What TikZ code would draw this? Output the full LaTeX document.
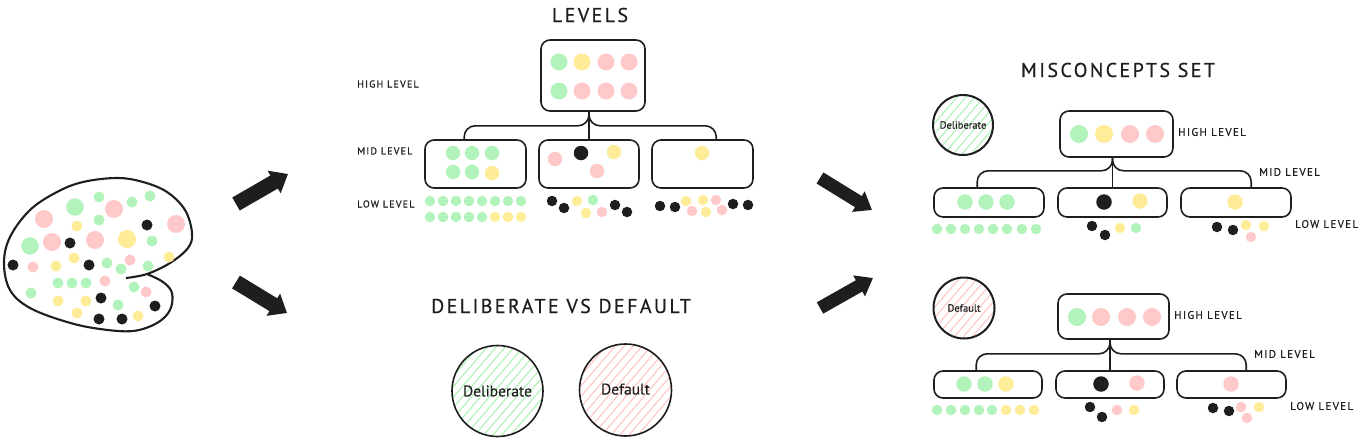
\documentclass[tikz,border=0pt]{standalone}
\usepackage{fontspec}
\setmainfont[FakeBold=0.3]{PT Sans}
\newfontfamily\capsfont[LetterSpace=12, FakeBold=0.5]{PT Sans}
\usetikzlibrary{arrows.meta}

\definecolor{mint}{HTML}{B2F2BB}
\definecolor{butter}{HTML}{FFEC99}
\definecolor{rose}{HTML}{FFC9C9}
\definecolor{ink}{HTML}{1E1E1E}

\tikzset{
	spot/.style={circle, fill=#1, inner sep=0pt},
	levelbox/.style={draw=ink, line width=1.6pt, rounded corners=9pt, inner sep=0pt},
	link/.style={draw=ink, line width=1.6pt, rounded corners=11pt},
	bigarrow/.style={draw=ink, line width=#1, -{Triangle[length=16pt, width=#1+10pt]}},
	title/.style={text=ink, inner sep=0pt, font=\capsfont\fontsize{20}{22}\selectfont},
	levellabel/.style={text=ink, inner sep=0pt, anchor=west, font=\capsfont\fontsize{#1}{12}\selectfont},
	hatch/.style={path picture={
		\foreach \d in {-120,-111,...,120}
			\draw[#1, line width=1.2pt]
				([xshift=\d pt-60pt, yshift=-70pt]path picture bounding box.center) --
				([xshift=\d pt+60pt, yshift=70pt]path picture bounding box.center);
	}},
	kind/.style={circle, draw=ink, text=ink, inner sep=0pt, minimum size=#1}
}

\begin{document}
\begin{tikzpicture}[x=1pt, y=-1pt]
	\useasboundingbox (0,0) rectangle (1360,439);

	\draw[draw=ink, line width=2.1pt, line join=round] plot[smooth, tension=0.6] coordinates {
		(126,278) (147,274) (170,263) (188,248) (192,233) (185,210) (167,192) (143,182) (117,178)
		(83,182) (57,192) (30,210) (10,237) (4,263) (10,290) (30,308) (67,322) (100,329) (133,331)
		(157,323) (170,310) (172,293) (163,282) (147,274)};

	\foreach \c/\d/\x/\y in {
		mint/17.5/75/207, mint/17.5/30/246, rose/18/44/219, rose/18/114/209, rose/18/52/242,
		rose/18/95/240, rose/18/176/224, butter/18/127/239,
		mint/11/99/197, mint/11/132/202, mint/11/150/196, mint/11/99/220, mint/11/152/241,
		mint/11/107/263, mint/11/121/269, mint/11/148/266, mint/11/58/283, mint/11/72/283,
		mint/11/86/283, mint/11/31/293, mint/11/134/287, mint/11/118/305,
		rose/11/33/267, rose/11/130/260, rose/11/105/281, rose/11/146/292,
		butter/11/77/226, butter/11/74/258, butter/11/56/266, butter/11/169/257, butter/11/58/301,
		butter/11/86/301, butter/11/77/313, butter/11/138/316,
		ink/11/147/225, ink/11/70/243, ink/11/13/265, ink/11/89/265, ink/11/101/298, ink/11/155/306,
		ink/11/99/319, ink/11/122/319}
		\node[spot=\c, minimum size=\d pt] (pool\x-\y) at (\x,\y) {};

	\coordinate (a1s) at (236,204);
	\coordinate (a1e) at (288,174);
	\coordinate (a2s) at (236,282);
	\coordinate (a2e) at (287,313);
	\coordinate (a3s) at (820,178);
	\coordinate (a3e) at (872,210);
	\coordinate (a4s) at (820,308);
	\coordinate (a4e) at (873,278);
	\draw[bigarrow=15pt] (a1s) -- (a1e);
	\draw[bigarrow=15pt] (a2s) -- (a2e);
	\draw[bigarrow=13pt] (a3s) -- (a3e);
	\draw[bigarrow=13pt] (a4s) -- (a4e);

	\node[title] (levels) at (590,15) {LEVELS};
	\node[levellabel=10] (high1) at (357,84) {HIGH LEVEL};
	\node[levellabel=10] (mid1) at (357,151) {MID LEVEL};
	\node[levellabel=10] (low1) at (357,204) {LOW LEVEL};

	\node[levelbox, minimum width=104pt, minimum height=71pt] (lh) at (593,75.5) {};
	\node[levelbox, minimum width=101pt, minimum height=48pt] (lm1) at (475.5,164) {};
	\node[levelbox, minimum width=100pt, minimum height=48pt] (lm2) at (589,164) {};
	\node[levelbox, minimum width=101pt, minimum height=48pt] (lm3) at (702.5,164) {};
	\draw[link] (lh.south -| lm2.north) -- ++(0,14) -| ([xshift=40pt]lm1.north west);
	\draw[link] (lh.south -| lm2.north) -- (lm2.north);
	\draw[link] (lh.south -| lm2.north) -- ++(0,14) -| ([xshift=65pt]lm3.north west);

	\foreach \c/\x/\y in {mint/559/62, butter/582/62, rose/606/62, rose/629/62,
		mint/559/91, rose/582/91, rose/606/91, rose/629/91}
		\node[spot=\c, minimum size=17pt] (lh\x-\y) at (\x,\y) {};
	\foreach \c/\x/\y in {mint/453/153, mint/472/153, mint/492/153, mint/453/172, mint/472/172,
		butter/492/173, rose/555/159, ink/581/153, butter/614/152, rose/597/171, butter/702/153}
		\node[spot=\c, minimum size=14.5pt] (lm\x-\y) at (\x,\y) {};
	\foreach \c/\x/\y in {mint/430/201, mint/443/201, mint/456/201, mint/469/201, mint/482/201,
		mint/495/201, mint/508/201, mint/521/201, mint/430/217, mint/443/217, mint/456/217,
		mint/469/217, mint/482/217, butter/495/217, butter/508/217, butter/521/217,
		ink/552/201, ink/564/208, butter/577/201, mint/593/200, butter/586/213, rose/602/212,
		ink/615/205, ink/627/212, ink/660/206, ink/675/207, butter/686/201, butter/703/200,
		rose/716/200, rose/692/211, butter/706/212, rose/722/210, ink/733/204, ink/748/205}
		\node[spot=\c, minimum size=10.5pt] (ll\x-\y) at (\x,\y) {};

	\node[title] (versus) at (561,306) {DELIBERATE VS DEFAULT};
	\node[kind=91pt, line width=1.6pt, hatch=mint, font=\fontsize{15.5}{17}\selectfont] (delib) at (497.5,391) {Deliberate};
	\node[kind=92pt, line width=1.6pt, hatch=rose, font=\fontsize{15.5}{17}\selectfont] (defau) at (625.5,390) {\raisebox{2pt}{Default}};

	\node[title] (miscon) at (1118,70) {MISCONCEPTS SET};
	\node[kind=60pt, line width=2pt, hatch=mint, font=\fontsize{10.5}{12}\selectfont] (delib2) at (963,125) {Deliberate};
	\node[levellabel=11] (high2) at (1178,132) {HIGH LEVEL};
	\node[levellabel=11] (mid2) at (1259,172) {MID LEVEL};
	\node[levellabel=11] (low2) at (1295,224) {LOW LEVEL};

	\node[levelbox, minimum width=113pt, minimum height=46pt] (uh) at (1116.5,134) {};
	\node[levelbox, minimum width=110pt, minimum height=29pt] (um1) at (989,202.5) {};
	\node[levelbox, minimum width=109pt, minimum height=29pt] (um2) at (1112.5,202.5) {};
	\node[levelbox, minimum width=110pt, minimum height=29pt] (um3) at (1236,202.5) {};
	\draw[link] (uh.south -| um2.north) -- ++(0,13) -| ([xshift=44pt]um1.north west);
	\draw[link] (uh.south -| um2.north) -- (um2.north);
	\draw[link] (uh.south -| um2.north) -- ++(0,13) -| ([xshift=71pt]um3.north west);

	\foreach \c/\x in {mint/1079, butter/1104, rose/1130, rose/1155}
		\node[spot=\c, minimum size=18pt] (uh\x) at (\x,134) {};
	\foreach \c/\x/\y in {mint/965/202, mint/986/202, mint/1007/202, ink/1104/202, butter/1140/201, butter/1235/202}
		\node[spot=\c, minimum size=15.5pt] (um\x) at (\x,\y) {};
	\foreach \c/\x/\y in {mint/937/229, mint/951/229, mint/965/229, mint/979/229, mint/993/229,
		mint/1007/229, mint/1022/229, mint/1036/229, ink/1092/226, ink/1105/235, butter/1120/228,
		mint/1136/228, ink/1217/227, ink/1233/230, butter/1246/225, butter/1264/226, rose/1251/237}
		\node[spot=\c, minimum size=10.5pt] (ul\x) at (\x,\y) {};

	\node[kind=61pt, line width=2pt, hatch=rose, font=\fontsize{10.5}{12}\selectfont] (defau2) at (964,308) {Default};
	\node[levellabel=11] (high3) at (1174,315) {HIGH LEVEL};
	\node[levellabel=11] (mid3) at (1254,354) {MID LEVEL};
	\node[levellabel=11] (low3) at (1290,406) {LOW LEVEL};

	\node[levelbox, minimum width=111pt, minimum height=45pt] (bh) at (1113.5,316.5) {};
	\node[levelbox, minimum width=108pt, minimum height=27pt] (bm1) at (988,384.5) {};
	\node[levelbox, minimum width=108pt, minimum height=27pt] (bm2) at (1110,384.5) {};
	\node[levelbox, minimum width=109pt, minimum height=27pt] (bm3) at (1231.5,384.5) {};
	\draw[link] (bh.south -| bm2.north) -- ++(0,14) -| ([xshift=43pt]bm1.north west);
	\draw[link] (bh.south -| bm2.north) -- (bm2.north);
	\draw[link] (bh.south -| bm2.north) -- ++(0,14) -| ([xshift=70pt]bm3.north west);

	\foreach \c/\x in {mint/1077, rose/1101, rose/1127, rose/1152}
		\node[spot=\c, minimum size=18pt] (bh\x) at (\x,317) {};
	\foreach \c/\x/\y in {mint/964/384, mint/985/384, butter/1006/384, ink/1101/384, rose/1137/383, rose/1231/384}
		\node[spot=\c, minimum size=15.5pt] (bm\x) at (\x,\y) {};
	\foreach \c/\x/\y in {mint/937/410, mint/951/410, mint/965/410, mint/979/410, mint/992/410,
		butter/1006/410, butter/1020/410, butter/1034/410, ink/1090/407, ink/1102/417, rose/1117/410,
		butter/1134/410, ink/1213/408, ink/1229/411, rose/1241/407, butter/1259/407, rose/1247/418}
		\node[spot=\c, minimum size=10.5pt] (bl\x) at (\x,\y) {};
\end{tikzpicture}
\end{document}
